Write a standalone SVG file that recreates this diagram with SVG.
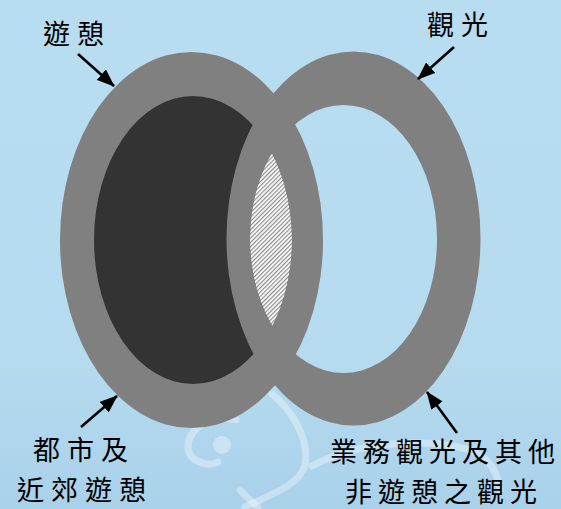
<svg xmlns="http://www.w3.org/2000/svg" width="561" height="509" viewBox="0 0 561 509">
  <defs>
    <linearGradient id="bg" x1="0" y1="0" x2="0" y2="1">
      <stop offset="0" stop-color="#b9ddf0"/>
      <stop offset="0.7" stop-color="#b6dbef"/>
      <stop offset="1" stop-color="#a9d1ea"/>
    </linearGradient>
    <pattern id="hatch" width="3" height="3" patternUnits="userSpaceOnUse" patternTransform="rotate(45)">
      <rect width="3" height="3" fill="#ffffff"/>
      <rect width="1.2" height="3" fill="#8a8a8a"/>
    </pattern>
    <clipPath id="holeClip">
      <ellipse cx="343.5" cy="239" rx="93.5" ry="134"/>
    </clipPath>
    <marker id="arr" markerUnits="userSpaceOnUse" markerWidth="18" markerHeight="14" refX="17" refY="7" orient="auto">
      <path d="M0,0 L18,7 L0,14 Z" fill="#000"/>
    </marker>
    <style>
      .band { fill: #808080; }
      .core { fill: #333333; }
      .lbl { font-family: "Noto Sans CJK TC", "Noto Sans CJK SC", sans-serif; font-size: 27px; fill: #000; letter-spacing: 7px; }
      .conn { stroke: #000; stroke-width: 2.6; fill: none; marker-end: url(#arr); }
      .swirl { stroke: #ffffff; stroke-opacity: 0.35; fill: none; stroke-width: 7; stroke-linecap: round; }
    </style>
  </defs>

  <rect width="561" height="509" fill="url(#bg)"/>

  <g id="decoration">
    <path class="swirl" d="M272,394 C292,410 310,440 305,465 C300,485 270,495 245,507"/>
    <path class="swirl" d="M312,466 C350,445 420,435 470,450 C490,458 498,472 500,490"/>
    <path class="swirl" d="M236,420 C215,415 190,425 188,445 C187,460 205,468 218,462"/>
    <circle cx="222" cy="445" r="9" fill="#ffffff" fill-opacity="0.35"/>
    <path class="swirl" d="M240,490 L258,508"/>
  </g>

  <g id="leisure">
    <ellipse class="band" cx="191.5" cy="240" rx="131.5" ry="188"/>
    <ellipse class="core" cx="193" cy="240" rx="99" ry="144"/>
  </g>

  <g id="tourism">
    <path class="band" fill-rule="evenodd" d="M226.5,238.5 a127,187 0 1,0 254,0 a127,187 0 1,0 -254,0 Z M250,239 a93.5,134 0 1,0 187,0 a93.5,134 0 1,0 -187,0 Z"/>
  </g>

  <g id="overlap">
    <ellipse cx="193" cy="240" rx="99" ry="144" fill="url(#hatch)" clip-path="url(#holeClip)"/>
  </g>

  <g id="label-leisure">
    <text class="lbl" x="43" y="44">遊憩</text>
  </g>
  <g id="label-tourism">
    <text class="lbl" x="427" y="35">觀光</text>
  </g>
  <g id="label-urban">
    <text class="lbl" x="33" y="460">都市及</text>
    <text class="lbl" x="17" y="500">近郊遊憩</text>
  </g>
  <g id="label-business">
    <text class="lbl" x="330" y="462" style="letter-spacing:6px">業務觀光及其他</text>
    <text class="lbl" x="345" y="502" style="letter-spacing:6px">非遊憩之觀光</text>
  </g>

  <g id="connectors">
    <line class="conn" x1="78" y1="54" x2="114" y2="86"/>
    <line class="conn" x1="454" y1="47" x2="418" y2="79"/>
    <line class="conn" x1="81" y1="427" x2="117" y2="396"/>
    <line class="conn" x1="457" y1="433" x2="427" y2="392"/>
  </g>
</svg>
